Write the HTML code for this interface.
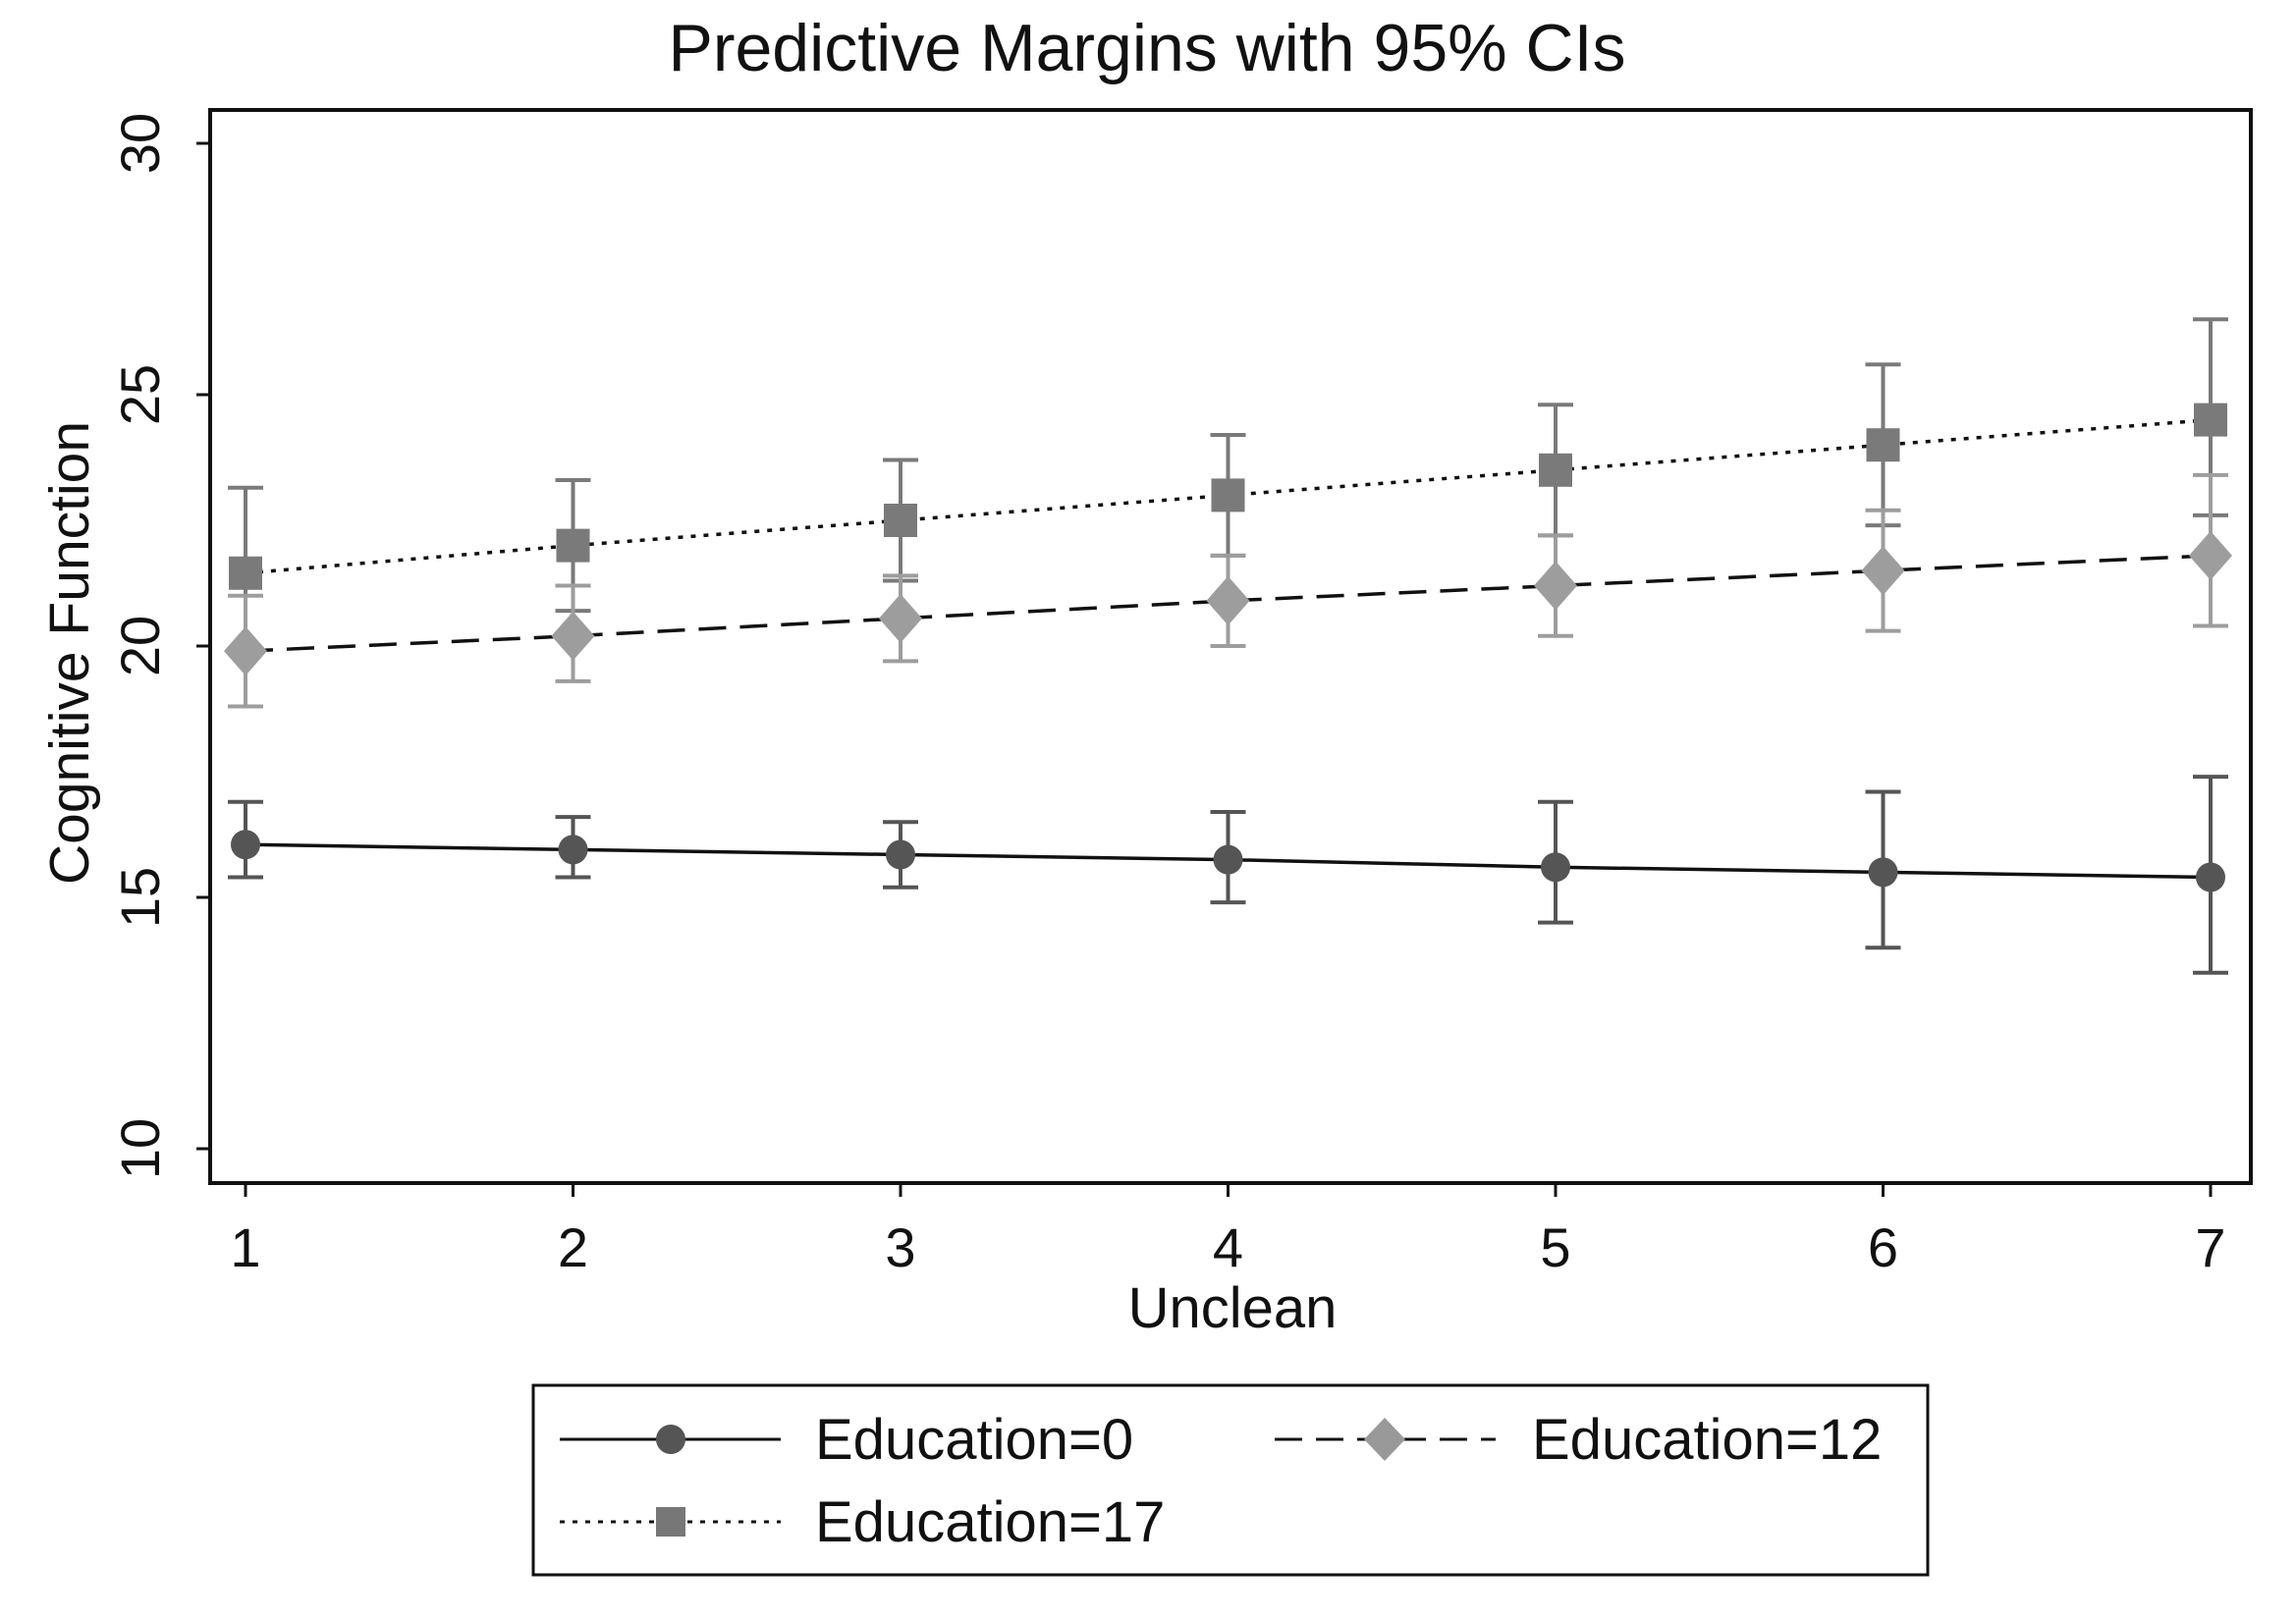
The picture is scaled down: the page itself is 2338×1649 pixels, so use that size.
<!DOCTYPE html>
<html><head><meta charset="utf-8"><style>
html,body{margin:0;padding:0;background:#fff;}
svg{display:block;font-family:"Liberation Sans",sans-serif;}
</style></head><body>
<svg id="chart" width="2338" height="1649" viewBox="0 0 2338 1649">
<rect x="0" y="0" width="2338" height="1649" fill="#fff"/>
<text x="1168" y="72" font-size="68" text-anchor="middle" fill="#111">Predictive Margins with 95% CIs</text>
<g id="plot"></g>
<rect x="214" y="112" width="2078" height="1093" fill="none" stroke="#111" stroke-width="4"/>
<text transform="translate(90,665) rotate(-90)" font-size="57" text-anchor="middle" fill="#111">Cognitive Function</text>
<text x="1255" y="1352" font-size="58" text-anchor="middle" fill="#111">Unclean</text>
<g>
<rect x="543" y="1411" width="1420" height="193" fill="#fff" stroke="#111" stroke-width="3"/>
<g>
<line x1="570" y1="1466" x2="795" y2="1466" stroke="#111" stroke-width="3"/>
<circle cx="683" cy="1466" r="15" fill="#555"/>
<text x="830" y="1486" font-size="58" fill="#111">Education=0</text>
</g>
<g>
<line x1="1298" y1="1466" x2="1523" y2="1466" stroke="#111" stroke-width="3" stroke-dasharray="28,14"/>
<polygon points="1410,1444 1431,1466 1410,1488 1389,1466" fill="#999"/>
<text x="1560" y="1486" font-size="58" fill="#111">Education=12</text>
</g>
<g>
<line x1="570" y1="1550" x2="795" y2="1550" stroke="#111" stroke-width="3" stroke-dasharray="5,8"/>
<rect x="668" y="1535" width="30" height="30" fill="#777"/>
<text x="830" y="1570" font-size="58" fill="#111">Education=17</text>
</g>
</g>
</svg>
<script>
const categories=[1,2,3,4,5,6,7];
const yTicks=[10,15,20,25,30];
const edu0=[16.05,15.95,15.85,15.75,15.6,15.5,15.4];
const edu0Lo=[15.4,15.4,15.2,14.9,14.5,14.0,13.5];
const edu0Hi=[16.9,16.6,16.5,16.7,16.9,17.1,17.4];
const edu12=[19.9,20.2,20.55,20.9,21.2,21.5,21.8];
const edu12Lo=[18.8,19.3,19.7,20.0,20.2,20.3,20.4];
const edu12Hi=[21.0,21.2,21.4,21.8,22.2,22.7,23.4];
const edu17=[21.45,22.0,22.5,23.0,23.5,24.0,24.5];
const edu17Lo=[19.9,20.7,21.3,21.8,22.2,22.4,22.6];
const edu17Hi=[23.15,23.3,23.7,24.2,24.8,25.6,26.5];
const NS="http://www.w3.org/2000/svg";
const g=document.getElementById('plot');
const xS=v=>250+(v-1)*(2251-250)/6;
const yS=v=>1170-(v-10)*(1170-146)/20;
function mk(t,a,p){const e=document.createElementNS(NS,t);for(const k in a)e.setAttribute(k,a[k]);(p||g).appendChild(e);return e;}
yTicks.forEach(t=>{
 const l=mk('line',{x1:200,x2:214,y1:yS(t),y2:yS(t),stroke:'#111','stroke-width':3});
 
 
 const tx=mk('text',{transform:`translate(162,${yS(t)}) rotate(-90)`,'font-size':56,'text-anchor':'middle',fill:'#111'});
 tx.textContent=t;
 
 
});
categories.forEach(c=>{
 const l=mk('line',{x1:xS(c),x2:xS(c),y1:1205,y2:1219,stroke:'#111','stroke-width':3});
 
 
 const tx=mk('text',{x:xS(c),y:1290,'font-size':56,'text-anchor':'middle',fill:'#111'});
 tx.textContent=c;
 
 
});
function series(name,vals,lo,hi,col,dash,shape){
 const sg=mk('g',{});
 
 
 categories.forEach((c,i)=>{
  const x=xS(c);
  const e=mk('path',{d:`M${x},${yS(lo[i])}V${yS(hi[i])}M${x-18},${yS(lo[i])}H${x+18}M${x-18},${yS(hi[i])}H${x+18}`,stroke:col,'stroke-width':4,fill:'none'},sg);
  
  
 });
 const pl=mk('polyline',{points:categories.map((c,i)=>xS(c)+','+yS(vals[i])).join(' '),fill:'none',stroke:'#111','stroke-width':3.5,'stroke-dasharray':dash},sg);
 
 
 categories.forEach((c,i)=>{
  const x=xS(c),y=yS(vals[i]);let m;
  if(shape==='c')m=mk('circle',{cx:x,cy:y,r:15,fill:col},sg);
  else if(shape==='d')m=mk('polygon',{points:`${x},${y-25} ${x+22},${y} ${x},${y+25} ${x-22},${y}`,fill:col},sg);
  else m=mk('rect',{x:x-17,y:y-17,width:34,height:34,fill:col},sg);
  
  
 });
}
series('education-17',edu17,edu17Lo,edu17Hi,'#7a7a7a','5,8','s');
series('education-12',edu12,edu12Lo,edu12Hi,'#9d9d9d','28,14','d');
series('education-0',edu0,edu0Lo,edu0Hi,'#555','none','c');
</script>
</body></html>
